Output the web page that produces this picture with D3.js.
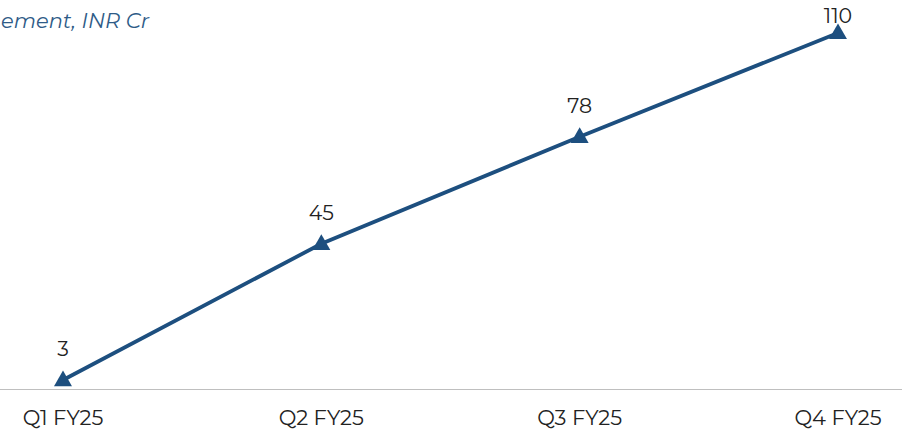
<!DOCTYPE html>
<html><head><meta charset="utf-8">
<script src="https://cdn.jsdelivr.net/npm/d3@7"></script>
<style>body{margin:0;background:#fff}svg{display:block}</style>
</head><body><svg id="c" width="902" height="430"></svg>
<script>
const categories = ["Q1 FY25","Q2 FY25","Q3 FY25","Q4 FY25"];
const values = [3,45,78,110];
const titleText = "ement, INR Cr";

const svg = d3.select("#c");
const font = "Montserrat, 'Open Sans', 'Noto Sans', sans-serif";
const x = d3.scalePoint().domain(categories).range([63,838]);
const y = d3.scaleLinear().domain([0,120]).range([389.7,0.5]);
const color = "#1d4f7f";

svg.append("text").attr("x",1).attr("y",28).attr("text-anchor","start")
  .attr("font-family",font).attr("font-style","italic").attr("font-size",21)
  .attr("fill","#2e5b87").text(titleText);

svg.append("line").attr("x1",0).attr("x2",902).attr("y1",389.5).attr("y2",389.5)
  .attr("stroke","#bfbfbf").attr("stroke-width",1);

svg.append("g").selectAll("text").data(categories).join("text")
  .attr("x",d=>x(d)).attr("y",425).attr("text-anchor","middle")
  .attr("font-family",font).attr("font-size",21).attr("fill","#222").text(d=>d);

const line = d3.line().x((d,i)=>x(categories[i])).y(d=>y(d));
svg.append("path").datum(values).attr("d",line).attr("fill","none")
  .attr("stroke",color).attr("stroke-width",3.8);

const tri = d3.symbol().type(d3.symbolTriangle).size(140);
svg.append("g").selectAll("path").data(values).join("path")
  .attr("transform",(d,i)=>`translate(${x(categories[i])},${y(d)+1})`)
  .attr("d",tri).attr("fill",color);

svg.append("g").selectAll("text").data(values).join("text")
  .attr("x",(d,i)=>x(categories[i])).attr("y",d=>Math.max(y(d)-24,23))
  .attr("text-anchor","middle").attr("font-family",font).attr("font-size",20.5)
  .attr("fill","#222").text(d=>d);
</script></body></html>
